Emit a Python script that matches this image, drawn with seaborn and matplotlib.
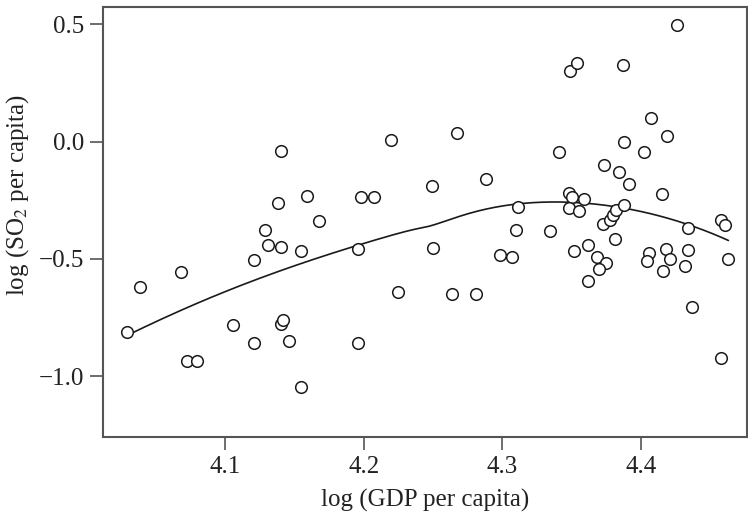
import numpy as np
import pandas as pd
import matplotlib
matplotlib.use("Agg")
import matplotlib.pyplot as plt
import seaborn as sns

# log GDP per capita (x) and log SO2 per capita (y) for each country
log_gdp = [
    4.029, 4.039, 4.068, 4.0726, 4.0796, 4.106, 4.121, 4.121, 4.129, 4.131,
    4.138, 4.140, 4.140, 4.140, 4.142, 4.146, 4.155, 4.155, 4.159, 4.168,
    4.196, 4.196, 4.198, 4.2074, 4.2195, 4.2247, 4.2495, 4.2497, 4.264, 4.267,
    4.281, 4.288, 4.298, 4.307, 4.310, 4.311, 4.334, 4.341, 4.349, 4.3536,
    4.3478, 4.350, 4.3588, 4.348, 4.355, 4.352, 4.362, 4.3615, 4.368, 4.3747,
    4.370, 4.373, 4.3723, 4.3776, 4.380, 4.382, 4.3877, 4.381, 4.3838, 4.387,
    4.388, 4.391, 4.402, 4.407, 4.406, 4.4045, 4.415, 4.4155, 4.418, 4.421,
    4.419, 4.426, 4.434, 4.434, 4.432, 4.437, 4.458, 4.4605, 4.458, 4.463,
]
log_so2 = [
    -0.810, -0.621, -0.554, -0.933, -0.933, -0.783, -0.504, -0.859, -0.376, -0.442,
    -0.261, -0.038, -0.448, -0.777, -0.759, -0.851, -0.465, -1.044, -0.231, -0.338,
    -0.456, -0.857, -0.234, -0.234, 0.006, -0.641, -0.188, -0.452, -0.649, 0.036,
    -0.649, -0.160, -0.482, -0.493, -0.376, -0.277, -0.382, -0.044, 0.300, 0.335,
    -0.220, -0.234, -0.243, -0.284, -0.294, -0.465, -0.439, -0.592, -0.493, -0.518,
    -0.543, -0.098, -0.351, -0.334, -0.314, -0.291, -0.268, -0.413, -0.129, 0.326,
    -0.001, -0.182, -0.044, 0.101, -0.473, -0.507, -0.224, -0.550, -0.459, -0.499,
    0.024, 0.499, -0.368, -0.462, -0.528, -0.703, -0.334, -0.355, -0.921, -0.501,
]

x_ticks = [4.1, 4.2, 4.3, 4.4]
y_ticks = [0.5, 0.0, -0.5, -1.0]
y_tick_labels = ["0.5", "0.0", "\u22120.5", "\u22121.0"]


def loess(x, y, grid, span=1.0, degree=2):
    """Local quadratic regression with tricube weights."""
    x = np.asarray(x, float)
    y = np.asarray(y, float)
    k = int(np.ceil(span * len(x)))
    fitted = []
    for g in grid:
        d = np.abs(x - g)
        h = np.sort(d)[k - 1]
        w = np.clip(1 - (d / h) ** 3, 0, None) ** 3
        X = np.vander(x - g, degree + 1, increasing=True)
        sw = np.sqrt(w)
        beta, *_ = np.linalg.lstsq(X * sw[:, None], y * sw, rcond=None)
        fitted.append(beta[0])
    return np.array(fitted)


df = pd.DataFrame({"gdp": log_gdp, "so2": log_so2})
grid = np.linspace(min(log_gdp), max(log_gdp), 200)
smooth = pd.DataFrame({"gdp": grid, "so2": loess(log_gdp, log_so2, grid)})

sns.set_style("ticks")
plt.rcParams["font.family"] = ["Liberation Serif", "DejaVu Serif"]
plt.rcParams["mathtext.fontset"] = "stix"

W, H = 748, 522
fig = plt.figure(figsize=(W / 100, H / 100), dpi=100)
left, right, top, bottom = 103, 747, 7, 437
ax = fig.add_axes([left / W, (H - bottom) / H, (right - left) / W, (bottom - top) / H])

sns.lineplot(data=smooth, x="gdp", y="so2", ax=ax, color="#1a1a1a",
             linewidth=1.2, sort=False, zorder=2)
sns.scatterplot(data=df, x="gdp", y="so2", ax=ax, marker="o", s=70,
                facecolor="white", edgecolor="#1a1a1a", linewidth=1.1, zorder=3)

ax.set_xlim(4.012, 4.4764)
ax.set_ylim(-1.259, 0.574)
ax.set_xticks(x_ticks)
ax.set_xticklabels([f"{t:.1f}" for t in x_ticks])
ax.set_yticks(y_ticks)
ax.set_yticklabels(y_tick_labels)

for s in ax.spines.values():
    s.set_color("#555555")
    s.set_linewidth(1.5)
ax.tick_params(direction="out", length=9.5, width=1.2, color="#555555",
               labelsize=18, labelcolor="#222222", pad=4)

ax.set_xlabel("log (GDP per capita)", fontsize=18, color="#222222", labelpad=8)
ax.set_ylabel("log (SO$_2$ per capita)", fontsize=18, color="#222222")
ax.yaxis.set_label_coords(-0.112, 0.563)

fig.savefig("out.png", dpi=100)
